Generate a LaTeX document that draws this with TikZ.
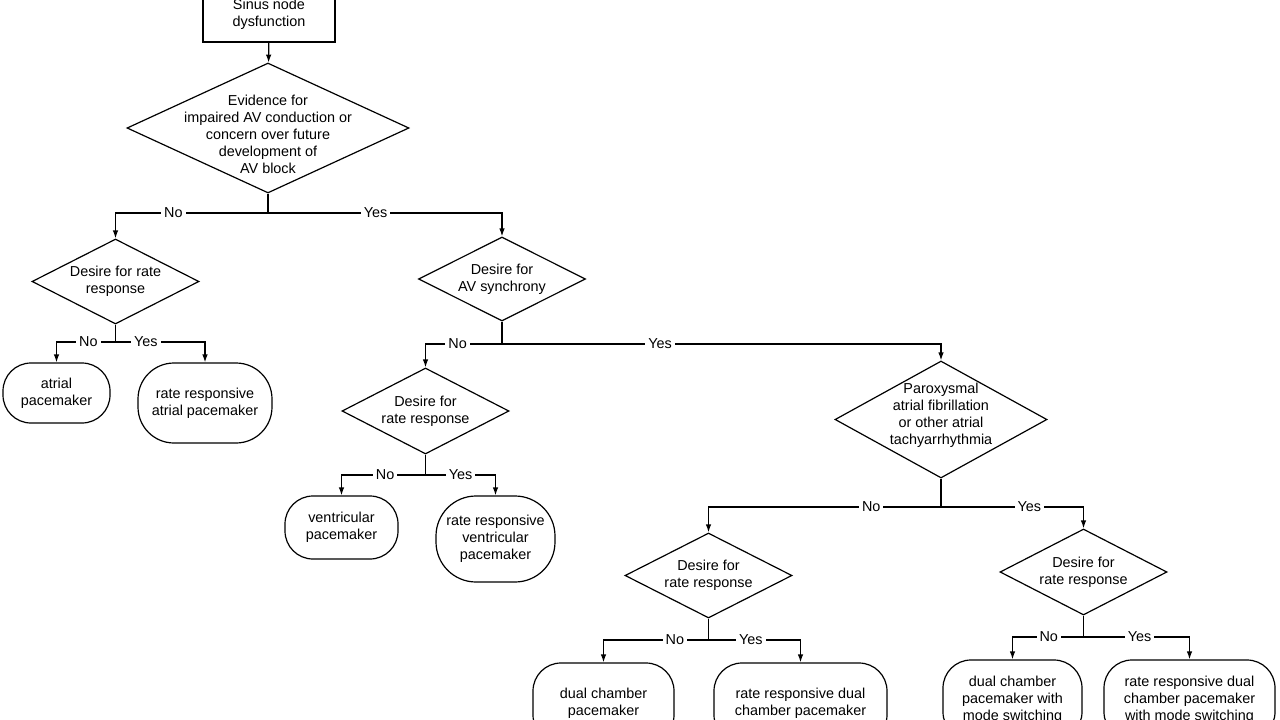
\documentclass[tikz,border=0pt]{standalone}
\usepackage{fontspec}
\setmainfont{Liberation Sans}
\usetikzlibrary{shapes.geometric,arrows.meta}

\begin{document}
\begin{tikzpicture}[x=1pt,y=-1pt,
    font=\fontsize{14.4}{17}\selectfont,
    line width=1.2pt,
    decision/.style={diamond, draw, inner sep=0pt},
    terminal/.style={rectangle, draw, rounded corners=28pt, align=center, inner sep=0pt},
    txt/.style={align=center},
    lbl/.style={fill=white, inner sep=3pt},
    arr/.style={-{Latex[length=8pt,width=5.5pt]}}]

    \useasboundingbox (0,0) rectangle (1280,720);
    \clip (0,0) rectangle (1280,720);

    % ================= TOP =================
    \node[draw, minimum width=132, minimum height=56, align=center] (sinus) at (269,14) {Sinus node\\dysfunction};

    \node[decision, minimum width=282, minimum height=130] (evid) at (268,128) {};
    \node[txt] (evid-t) at (268,134) {Evidence for\\impaired AV conduction or\\concern over future\\development of\\AV block};

    \coordinate (j1) at (268,213);

    % ================= LEFT BRANCH =================
    \node[decision, minimum width=167, minimum height=85] (rate1) at (115.5,281.5) {};
    \node[txt] (rate1-t) at (rate1) {Desire for rate\\response};

    \coordinate (j2) at (115.5,342);

    \node[terminal, minimum width=107, minimum height=60] (atrial) at (56.5,393) {atrial\\pacemaker};
    \node[terminal, minimum width=134, minimum height=80, rounded corners=36pt] (rratrial) at (205,403) {rate responsive\\atrial pacemaker};

    % ================= AV SYNCHRONY =================
    \node[decision, minimum width=167, minimum height=84] (sync) at (502,279) {};
    \node[txt] (sync-t) at (sync) {Desire for\\AV synchrony};

    \coordinate (j3) at (502,344);

    \node[decision, minimum width=167, minimum height=86] (rate2) at (425.5,411) {};
    \node[txt] (rate2-t) at (rate2) {Desire for\\rate response};

    \coordinate (j4) at (425.5,475);

    \node[terminal, minimum width=113, minimum height=63] (vent) at (341.5,527.5) {ventricular\\pacemaker};
    \node[terminal, minimum width=119, minimum height=86, rounded corners=40pt] (rrvent) at (495.5,539) {rate responsive\\ventricular\\pacemaker};

    % ================= TACHYARRHYTHMIA =================
    \node[decision, minimum width=212, minimum height=117] (parox) at (941,419.5) {};
    \node[txt] (parox-t) at (941,415) {Paroxysmal\\atrial fibrillation\\or other atrial\\tachyarrhythmia};

    \coordinate (j5) at (941,507);

    \node[decision, minimum width=167, minimum height=85] (rate3) at (708.5,575.5) {};
    \node[txt] (rate3-t) at (rate3) {Desire for\\rate response};

    \node[decision, minimum width=167, minimum height=86] (rate4) at (1083.5,572) {};
    \node[txt] (rate4-t) at (rate4) {Desire for\\rate response};

    \coordinate (j6) at (708.5,640);
    \coordinate (j7) at (1083.5,637);

    \node[terminal, minimum width=141, minimum height=80] (dual) at (603.5,703) {dual chamber\\pacemaker};
    \node[terminal, minimum width=173, minimum height=80] (rrdual) at (800.5,703) {rate responsive dual\\chamber pacemaker};
    \node[terminal, minimum width=139, minimum height=80] (dualms) at (1012.5,700) {dual chamber\\pacemaker with\\mode switching};
    \node[terminal, minimum width=171, minimum height=80] (rrdualms) at (1189.5,700) {rate responsive dual\\chamber pacemaker\\with mode switching};

    % ================= CONNECTORS =================
    \draw[arr] (sinus) -- (evid);

    \draw (evid) -- (j1);
    \draw[arr] (j1) -| node[lbl, pos=.31] (no1) {No} (rate1);
    \draw[arr] (j1) -| node[lbl, pos=.23] (yes1) {Yes} (sync);

    \draw (rate1) -- (j2);
    \draw[arr] (j2) -| node[lbl, pos=.23] (no2) {No} (atrial);
    \draw[arr] (j2) -| node[lbl, pos=.17] (yes2) {Yes} (rratrial);

    \draw (sync) -- (j3);
    \draw[arr] (j3) -| node[lbl, pos=.29] (no3) {No} (rate2);
    \draw[arr] (j3) -| node[lbl, pos=.18] (yes3) {Yes} (parox);

    \draw (rate2) -- (j4);
    \draw[arr] (j4) -| node[lbl, pos=.24] (no4) {No} (vent);
    \draw[arr] (j4) -| node[lbl, pos=.25] (yes4) {Yes} (rrvent);

    \draw (parox) -- (j5);
    \draw[arr] (j5) -| node[lbl, pos=.15] (no5) {No} (rate3);
    \draw[arr] (j5) -| node[lbl, pos=.31] (yes5) {Yes} (rate4);

    \draw (rate3) -- (j6);
    \draw[arr] (j6) -| node[lbl, pos=.16] (no6) {No} (dual);
    \draw[arr] (j6) -| node[lbl, pos=.23] (yes6) {Yes} (rrdual);

    \draw (rate4) -- (j7);
    \draw[arr] (j7) -| node[lbl, pos=.245] (no7) {No} (dualms);
    \draw[arr] (j7) -| node[lbl, pos=.265] (yes7) {Yes} (rrdualms);

\end{tikzpicture}
\end{document}
